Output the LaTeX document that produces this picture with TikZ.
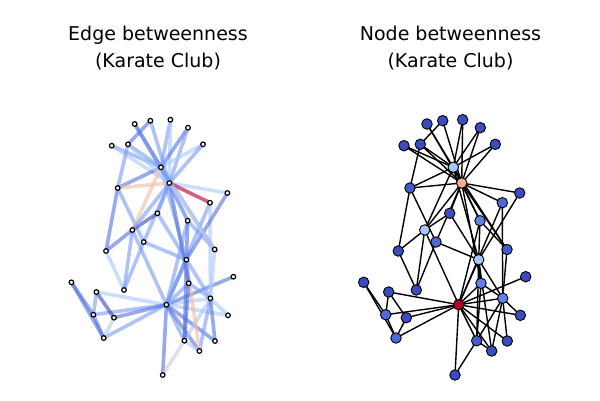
\documentclass[tikz,border=0pt]{standalone}
\usepackage{fontspec}
\setmainfont{DejaVu Sans}
\usetikzlibrary{positioning}
\pgfdeclarelayer{edges}
\pgfsetlayers{edges,main}
% node colours (coolwarm, node betweenness)
\definecolor{nbmin}{RGB}{59,76,192}
\definecolor{nbfaint}{RGB}{68,90,204}
\definecolor{nblow}{RGB}{78,106,216}
\definecolor{nbmid}{RGB}{97,129,233}
\definecolor{nbhigh}{RGB}{167,197,254}
\definecolor{nbhub}{RGB}{247,174,144}
\definecolor{nbtop}{RGB}{180,4,38}
% edge colours (coolwarm, edge betweenness)
\definecolor{ebdark}{RGB}{59,76,192}
\definecolor{ebmid}{RGB}{88,116,224}
\definecolor{eblight}{RGB}{122,158,247}
\definecolor{ebpale}{RGB}{172,200,254}
\definecolor{ebgray}{RGB}{200,205,222}
\definecolor{ebwarm}{RGB}{238,190,168}
\definecolor{ebred}{RGB}{180,4,38}

\begin{document}
\begin{tikzpicture}[x=1pt, y=-1pt,
  title/.style={align=center, anchor=base, font=\fontsize{19}{26.6}\selectfont},
  ebnode/.style={circle, draw=black, fill=white, line width=1.2pt, inner sep=0pt, minimum size=4.6pt},
  nbnode/.style={circle, draw=black, line width=0.9pt, inner sep=0pt, minimum size=10.5pt},
  ebedge/.style={line width=3.6pt, draw opacity=0.62},
  nbedge/.style={line width=1.4pt, black}]
  \useasboundingbox (0,0) rectangle (600,400);

  \node[title] (ebtitle) at (158,67.3) {Edge betweenness\\(Karate Club)};
  \node[title] (nbtitle) at (450.5,67.3) {Node betweenness\\(Karate Club)};

  % same layout in both panels, left one shifted
  \foreach \i/\x/\y/\c in {0/458.7/304.7/nbtop, 1/502.7/298.3/nbmid, 2/478.7/259.7/nbhigh,
      3/476.7/340.7/nbfaint, 4/388.7/292/nbmin, 5/396/338/nblow, 6/385.7/314.7/nblow,
      7/491.7/351/nbmin, 8/480/220.7/nbmid, 9/519.7/193/nbmin, 10/406.3/317.7/nbmin,
      11/525.7/276.7/nbmin, 12/455/375/nbmin, 13/481/283.3/nbmid, 14/427/124/nbmin,
      15/462.7/119.7/nbmin, 16/363.7/282.3/nbmin, 17/520.3/315.3/nbmin, 18/480.3/127.7/nbmin,
      19/502.3/202.7/nblow, 20/404/145.7/nbmin, 21/507.3/341/nbmin, 22/495.3/144.3/nbmin,
      23/410/188/nbfaint, 24/416.3/290/nbmin, 25/398.3/251/nbmin, 26/442.7/120.7/nbmin,
      27/436/242/nblow, 28/449.7/213.3/nbmin, 29/420.3/144.3/nbmin, 30/507/249.5/nbfaint,
      31/424.7/230/nbhigh, 32/453.3/167.3/nbhigh, 33/461.7/183/nbhub}
  {
    \node[ebnode] (l\i) at ({\x-292.3},\y) {};
    \node[nbnode, fill=\c] (r\i) at (\x,\y) {};
  }

  \begin{pgfonlayer}{edges}
  \foreach \a/\b/\c in {0/1/ebpale, 0/2/ebmid, 0/3/eblight, 0/4/ebpale, 0/5/eblight,
      0/6/eblight, 0/7/ebmid, 0/8/eblight, 0/10/ebmid, 0/11/ebmid, 0/12/ebmid, 0/13/eblight,
      0/17/ebpale, 0/19/eblight, 0/21/ebmid, 0/31/eblight,
      1/2/eblight, 1/3/ebpale, 1/7/eblight, 1/13/eblight, 1/17/ebpale, 1/19/ebpale,
      1/21/ebmid, 1/30/ebpale,
      2/3/ebmid, 2/7/ebwarm, 2/8/ebmid, 2/9/ebmid, 2/13/eblight, 2/27/eblight,
      2/28/eblight, 2/32/eblight,
      3/7/ebpale, 3/12/ebgray, 3/13/ebmid,
      4/6/eblight, 4/10/ebdark, 5/6/ebmid, 5/10/ebpale, 5/16/ebmid, 6/16/ebmid,
      8/30/eblight, 8/32/eblight, 8/33/eblight, 9/33/ebpale, 13/33/ebmid,
      14/32/ebdark, 14/33/eblight, 15/32/eblight, 15/33/ebpale, 18/32/ebmid, 18/33/eblight,
      19/33/ebred, 20/32/eblight, 20/33/ebpale, 22/32/ebpale, 22/33/eblight,
      23/25/ebmid, 23/27/eblight, 23/29/eblight, 23/32/ebmid, 23/33/ebwarm,
      24/25/ebpale, 24/27/eblight, 24/31/eblight, 25/31/ebmid,
      26/29/ebmid, 26/33/eblight, 27/33/eblight, 28/31/ebdark, 28/33/eblight,
      29/32/eblight, 29/33/ebpale, 30/32/eblight, 30/33/ebgray,
      31/32/ebwarm, 31/33/eblight, 32/33/eblight}
  {
    \draw[ebedge, draw=\c] (l\a.center) -- (l\b.center);
    \draw[nbedge] (r\a.center) -- (r\b.center);
  }
  \end{pgfonlayer}
\end{tikzpicture}
\end{document}
